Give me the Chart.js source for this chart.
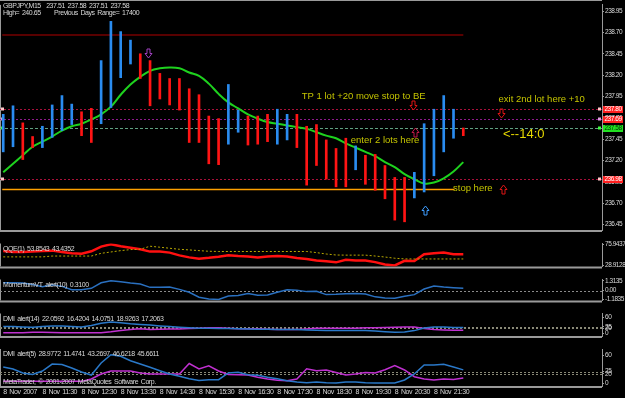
<!DOCTYPE html>
<html>
<head>
<meta charset="utf-8">
<style>
  html, body { margin: 0; background: #000; }
  #wrap { position: relative; width: 625px; height: 398px; overflow: hidden; background: #000; }
  #wrap canvas { position: absolute; left: 0; top: 0; }
</style>
<script src="https://cdn.jsdelivr.net/npm/chart.js@4.4.1/dist/chart.umd.min.js"></script>
</head>
<body>
<div id="wrap"></div>
<script>
// GBPJPY M15, 48 bars from 8 Nov 10:30
const timeLabels = ['8 Nov 2007', '8 Nov 11:30', '8 Nov 12:30', '8 Nov 13:30', '8 Nov 14:30', '8 Nov 15:30',
  '8 Nov 16:30', '8 Nov 17:30', '8 Nov 18:30', '8 Nov 19:30', '8 Nov 20:30', '8 Nov 21:30']
const timeTickBars = [0, 4, 8, 12, 16, 20, 24, 28, 32, 36, 40, 44]

const barHigh = [237.74, 237.84, 237.64, 237.48, 237.60, 237.85, 237.96, 237.86, 237.77, 237.81, 238.37, 238.83,
  238.71, 238.61, 238.45, 238.37, 238.22, 238.16, 238.16, 238.04, 237.97, 237.72, 237.69, 238.09,
  237.79, 237.72, 237.72, 237.74, 237.80, 237.74, 237.74, 237.60, 237.62, 237.44, 237.34, 237.46,
  237.37, 237.26, 237.27, 237.14, 237.00, 237.00, 237.06, 237.63, 237.80, 237.96, 237.80, 237.58]
const barLow = [237.30, 237.36, 237.21, 237.35, 237.35, 237.47, 237.55, 237.62, 237.49, 237.41, 237.63, 237.82,
  238.17, 238.33, 238.16, 237.84, 237.92, 237.85, 237.79, 237.41, 237.41, 237.16, 237.15, 237.39,
  237.53, 237.38, 237.39, 237.42, 237.39, 237.44, 237.35, 236.91, 237.14, 236.98, 236.89, 236.89,
  237.09, 236.92, 236.85, 236.75, 236.50, 236.48, 236.76, 236.83, 237.02, 237.30, 237.46, 237.49]
// 1 = up bar, -1 = down bar
const barDir = [1, 1, -1, -1, 1, 1, 1, 1, -1, -1, 1, 1, 1, 1, -1, -1, -1, -1, -1, -1, -1, -1, -1, 1,
  1, -1, -1, -1, 1, 1, -1, -1, -1, -1, -1, -1, 1, -1, -1, -1, -1, -1, 1, 1, 1, 1, 1, -1]
const maLine = [237.06, 237.16, 237.26, 237.36, 237.42, 237.48, 237.55, 237.60, 237.63, 237.68, 237.74, 237.83,
  237.97, 238.09, 238.18, 238.25, 238.28, 238.29, 238.28, 238.23, 238.19, 238.10, 237.98, 237.88,
  237.81, 237.74, 237.69, 237.65, 237.63, 237.61, 237.59, 237.57, 237.53, 237.49, 237.46, 237.40,
  237.35, 237.30, 237.25, 237.18, 237.12, 237.04, 236.98, 236.93, 236.94, 236.99, 237.07, 237.18]

const priceTicks = [238.95, 238.70, 238.45, 238.20, 237.95, 237.70, 237.45, 237.20, 236.95, 236.70, 236.45]
const dayHighLine = 238.67
const stopLine = 236.86
const levelPrices = [237.80, 237.69, 237.58, 236.98]

const noteTexts = ['TP 1 lot +20 move stop to BE', 'exit 2nd lot here +10', 'enter 2 lots here', 'stop here', '<--14:0']
const noteBars = [30.5, 50.6, 35.5, 45.95, 51.05]
const notePrices = [237.95, 237.92, 237.44, 236.87, 237.50]

const arrowBars = [14.75, 41.9, 50.9, 42.05, 43.05, 51.05]
const arrowPrices = [238.46, 237.85, 237.75, 237.53, 236.62, 236.87]
const arrowDirs = [-1, -1, -1, 1, 1, 1]

const qqeRsi = [61.2, 58.9, 58.9, 59.7, 61.2, 61.9, 58.9, 55.9, 55.2, 60.5, 70.9, 75.9,
  71.7, 68.4, 64.9, 59.7, 59.7, 57.5, 51.4, 46.9, 43.9, 45.9, 48.4, 51.4,
  49.9, 48.9, 46.9, 48.9, 49.9, 48.9, 45.4, 43.4, 40.2, 38.4, 35.9, 41.7,
  40.2, 39.9, 36.4, 31.2, 28.9, 39.4, 39.0, 53.7, 56.3, 57.5, 53.7, 53.9]
const qqeTrail = [48.0, 48.0, 48.0, 48.0, 48.0, 49.9, 49.9, 49.9, 49.9, 49.9, 55.9, 58.9,
  61.9, 64.2, 64.9, 71.7, 69.5, 67.2, 64.9, 63.5, 61.9, 60.5, 60.0, 60.0,
  60.0, 60.0, 60.0, 60.0, 60.0, 60.0, 60.0, 60.0, 57.5, 54.4, 52.2, 51.9,
  51.9, 51.9, 49.9, 47.7, 45.0, 43.5, 43.4, 43.4, 43.4, 43.4, 43.4, 43.4]
const qqeTicks = [75.9437, 28.9128]

const momentum = [1.05, 1.05, 1.01, 0.83, 0.52, 0.79, 0.57, 0.13, 0.13, 0.31, 1.05, 1.31,
  1.18, 1.01, 0.88, 0.44, 0.44, 0.48, 0.17, -0.22, -0.88, -1.10, -1.18, -0.72,
  -0.66, -0.37, -0.61, -0.57, -0.22, 0.13, 0.04, -0.13, -0.09, -0.53, -0.48, -0.40,
  -0.37, -0.44, -0.83, -0.98, -1.01, -0.75, -0.53, 0.22, 0.61, 0.48, 0.39, 0.31]
const momTicks = [1.3135, 0, -1.1835]
const momTickText = ['1.3135', '0.00', '-1.1835']

const dmi14Blue = [25.8, 25.8, 24.5, 23.3, 25.8, 28.3, 28.3, 25.8, 24.0, 30.0, 38.3, 42.5,
  40.0, 36.5, 34.0, 31.5, 28.3, 25.8, 23.3, 21.5, 20.0, 19.5, 18.8, 18.3,
  17.5, 17.0, 16.3, 15.8, 15.3, 15.0, 14.5, 13.3, 12.0, 11.5, 11.5, 11.5,
  11.5, 10.8, 9.5, 7.0, 5.0, 5.8, 10.8, 20.8, 24.5, 24.5, 22.0, 22.1]
const dmi14Pink = [3.3, 3.3, 3.3, 4.5, 5.0, 4.0, 3.3, 3.3, 3.3, 2.7, 3.3, 6.5,
  11.5, 15.0, 17.5, 15.0, 15.8, 16.5, 17.0, 18.3, 20.0, 21.5, 21.5, 20.0,
  17.5, 17.5, 17.5, 16.3, 15.0, 15.0, 15.0, 17.0, 19.5, 20.0, 20.0, 20.0,
  20.0, 21.5, 21.5, 22.0, 23.3, 24.5, 24.5, 18.3, 14.5, 13.3, 12.5, 12.5]
const dmi5Blue = [35.2, 30.9, 22.2, 18.9, 26.5, 41.7, 40.7, 33.0, 24.3, 17.8, 43.9, 62.0,
  58.5, 48.9, 41.7, 34.6, 27.2, 20.0, 15.0, 9.8, 5.9, 7.6, 7.6, 22.2,
  23.7, 18.5, 17.2, 12.8, 9.8, 5.4, 2.6, 0.8, 2.6, 0.8, 0.5, 2.6,
  2.6, 0.8, 0.5, 0.5, 0.3, 7.0, 20.0, 39.6, 39.6, 41.1, 35.2, 29.0]
const dmi5Pink = [4.0, 4.0, 4.0, 4.0, 4.0, 4.0, 4.0, 4.0, 4.0, 9.1, 20.0, 26.5,
  26.5, 26.5, 22.2, 20.0, 20.0, 20.0, 20.0, 42.8, 30.9, 38.0, 26.5, 18.9,
  18.5, 17.8, 12.8, 9.1, 6.3, 5.4, 9.1, 31.5, 27.2, 28.7, 23.3, 17.8,
  20.0, 23.3, 22.2, 29.3, 38.5, 28.7, 14.1, 9.1, 7.0, 9.1, 8.0, 11.5]
const dmiTicks = [60, 25, 20, 0]
const dmiLevels = [25, 20]

const X_MIN = -0.33
const X_MAX = 61.17
const SMALL = "'Liberation Sans', sans-serif"
const TEXT = '#d8d8d8'
const AXIS = '#9a9a9a'
const BLUE = '#2a8cf0'
const RED = '#ff1414'

const wrap = document.getElementById('wrap')
const pts = (arr) => arr.map((v, i) => ({ x: i, y: v }))

// MetaTrader's tiny bitmap font is narrow: tighten letters, keep the word gaps
function tight(ctx) {
  ctx.letterSpacing = '-0.45px'
  ctx.wordSpacing = '1.2px'
}

const frame = {
  id: 'frame',
  beforeDraw(chart) {
    const { ctx, chartArea: a } = chart
    tight(ctx)
    ctx.save()
    ctx.fillStyle = AXIS
    ctx.fillRect(0, a.bottom, a.right, 2)
    ctx.fillRect(0, a.top, 1, a.bottom - a.top)
    ctx.restore()
  },
}

function levels(values, color, dash) {
  return {
    id: 'levels',
    beforeDatasetsDraw(chart) {
      const { ctx, chartArea: a, scales } = chart
      ctx.save()
      ctx.strokeStyle = color
      ctx.setLineDash(dash)
      ctx.lineWidth = 1
      for (const v of values) {
        const py = Math.round(scales.y.getPixelForValue(v)) + 0.5
        ctx.beginPath()
        ctx.moveTo(a.left, py)
        ctx.lineTo(a.right, py)
        ctx.stroke()
      }
      ctx.restore()
    },
  }
}

function caption(lines) {
  return {
    id: 'caption',
    afterDraw(chart) {
      const { ctx, chartArea: a } = chart
      ctx.save()
      tight(ctx)
      ctx.font = '7px ' + SMALL
      ctx.fillStyle = TEXT
      ctx.textBaseline = 'middle'
      for (const [text, dy] of lines) ctx.fillText(text, 3, a.top + dy)
      ctx.restore()
    },
  }
}

function makePanel(p) {
  const canvas = document.createElement('canvas')
  canvas.width = 625
  canvas.height = 398
  wrap.appendChild(canvas)
  const timeAxis = !!p.timeAxis
  return new Chart(canvas, {
    type: 'line',
    data: { datasets: p.datasets },
    options: {
      responsive: false,
      animation: false,
      events: [],
      layout: { padding: { left: 0, right: 0, top: p.top, bottom: 398 - p.bottom - (timeAxis ? 11 : 0) } },
      plugins: { legend: { display: false }, tooltip: { enabled: false } },
      elements: { point: { radius: 0 } },
      scales: {
        x: {
          type: 'linear',
          min: X_MIN,
          max: X_MAX,
          offset: false,
          display: timeAxis,
          afterBuildTicks: (s) => { s.ticks = timeTickBars.map((v) => ({ value: v })) },
          afterFit: (s) => { s.height = 11 },
          ticks: {
            autoSkip: false, maxRotation: 0, align: 'start', padding: 0, color: TEXT,
            font: { family: SMALL, size: 7 },
            callback: (v, i) => timeLabels[i],
          },
          grid: { drawOnChartArea: false, offset: false, tickLength: 2, color: AXIS },
          border: { display: false },
        },
        y: {
          position: 'right',
          min: p.min,
          max: p.max,
          afterBuildTicks: (s) => { s.ticks = p.ticks.map((v) => ({ value: v })) },
          afterFit: (s) => { s.width = 23 },
          ticks: {
            autoSkip: false, padding: 1, color: TEXT,
            font: { family: SMALL, size: 6.5 },
            callback: (v, i) => p.tickText[i],
          },
          grid: { drawOnChartArea: false, tickLength: 2, color: AXIS },
          border: { color: AXIS },
        },
      },
    },
    plugins: [frame, ...(p.plugins || [])],
  })
}

function drawArrow(ctx, x, y, dir, color) {
  const s = -dir
  const shape = [[0, 4.5], [-3.5, 0], [-1.5, 0], [-1.5, -4.5], [1.5, -4.5], [1.5, 0], [3.5, 0]]
  ctx.strokeStyle = color
  ctx.lineWidth = 1
  ctx.beginPath()
  shape.forEach(([dx, dy], i) => {
    const px = x + dx
    const py = y + dy * s
    if (i === 0) ctx.moveTo(px, py)
    else ctx.lineTo(px, py)
  })
  ctx.closePath()
  ctx.stroke()
}

const levelStyle = [
  { color: '#a8103a', dash: [2, 2], box: '#ff2020', ink: '#ffffff', dot: '#ffc8c8' },
  { color: '#8c1a8c', dash: [2, 2], box: '#ff2020', ink: '#ffffff', dot: '#e0a0e0' },
  { color: '#5f9f80', dash: [3, 2], box: '#22e022', ink: '#003000', dot: '#40ff40' },
  { color: '#a8103a', dash: [2, 2], box: '#ff2020', ink: '#ffffff', dot: '#ffc8c8' },
]
const arrowColors = ['#a040c0', '#e01414', '#e01414', '#c01848', '#3c9cff', '#e01414']

const mainDecor = {
  id: 'mainDecor',
  beforeDatasetsDraw(chart) {
    const { ctx, chartArea: a, scales: { y } } = chart
    ctx.save()
    ctx.fillStyle = AXIS
    ctx.fillRect(0, 0, a.right, 1)
    levelPrices.forEach((v, i) => {
      const st = levelStyle[i]
      const py = Math.round(y.getPixelForValue(v)) + 0.5
      ctx.strokeStyle = st.color
      ctx.setLineDash(st.dash)
      ctx.beginPath()
      ctx.moveTo(a.left, py)
      ctx.lineTo(a.right, py)
      ctx.stroke()
      ctx.setLineDash([])
      ctx.fillStyle = st.dot
      ctx.fillRect(a.left + 1, py - 2, 3, 3)
      ctx.fillRect(a.right - 4, py - 2, 3, 3)
    })
    ctx.restore()
  },
  afterDraw(chart) {
    const { ctx, scales: { x, y } } = chart
    ctx.save()
    arrowBars.forEach((b, i) => {
      drawArrow(ctx, Math.round(x.getPixelForValue(b)) + 0.5, Math.round(y.getPixelForValue(arrowPrices[i])) + 0.5,
        arrowDirs[i], arrowColors[i])
    })
    ctx.textBaseline = 'middle'
    ctx.letterSpacing = '0px'
    ctx.wordSpacing = '0px'
    noteTexts.forEach((t, i) => {
      const big = i === noteTexts.length - 1
      ctx.font = big ? '13px "Liberation Sans", sans-serif' : '9.5px "Liberation Sans", sans-serif'
      ctx.fillStyle = big ? '#e6d800' : '#c4c400'
      ctx.fillText(t, x.getPixelForValue(noteBars[i]), y.getPixelForValue(notePrices[i]))
    })
    tight(ctx)
    // price boxes on the right axis
    ctx.font = '6.5px ' + SMALL
    ctx.textAlign = 'center'
    levelPrices.forEach((v, i) => {
      const st = levelStyle[i]
      const py = Math.round(y.getPixelForValue(v))
      ctx.fillStyle = st.box
      ctx.fillRect(603, py - 3, 20, 7)
      ctx.fillStyle = st.ink
      ctx.fillText(v.toFixed(2), 613, py + 0.5)
    })
    ctx.textAlign = 'left'
    ctx.font = '7px ' + SMALL
    ctx.fillStyle = TEXT
    ctx.fillText('GBPJPY,M15  237.51 237.58 237.51 237.58', 3, 6)
    ctx.fillText('High= 240.65     Previous Days Range= 17400', 3, 13)
    ctx.restore()
  },
}

makePanel({
  top: 0, bottom: 241, min: 236.384, max: 239.023,
  ticks: priceTicks, tickText: priceTicks.map((v) => v.toFixed(2)),
  datasets: [
    {
      type: 'bar',
      data: barHigh.map((h, i) => ({ x: i, y: [barLow[i], h] })),
      backgroundColor: barDir.map((d) => (d > 0 ? BLUE : RED)),
      barThickness: 2,
      borderWidth: 0,
      grouped: false,
    },
    { data: [{ x: -0.1, y: dayHighLine }, { x: 47, y: dayHighLine }], borderColor: '#b00000', borderWidth: 1.2 },
    { data: [{ x: -0.1, y: stopLine }, { x: 46.1, y: stopLine }], borderColor: '#ffa000', borderWidth: 1.5 },
    { data: pts(maLine), borderColor: '#1ed21e', borderWidth: 2, tension: 0.4 },
  ],
  plugins: [mainDecor],
})

makePanel({
  top: 243.5, bottom: 277.5, min: 26.65, max: 77.74,
  ticks: qqeTicks, tickText: qqeTicks.map((v) => v.toFixed(4)),
  datasets: [
    { data: pts(qqeTrail), borderColor: '#b8a800', borderWidth: 1, borderDash: [2, 2] },
    { data: pts(qqeRsi), borderColor: '#ff1010', borderWidth: 2.5 },
  ],
  plugins: [caption([['QQE(1) 53.8543 43.4352', 6]])],
})

makePanel({
  top: 279.5, bottom: 311.5, min: -1.316, max: 1.489,
  ticks: momTicks, tickText: momTickText,
  datasets: [{ data: pts(momentum), borderColor: '#2a70c0', borderWidth: 1.5 }],
  plugins: [levels([0], '#8a8a8a', [2, 2]), caption([['MomentumVT alert(10) 0.3100', 5.5]])],
})

makePanel({
  top: 313.5, bottom: 347, min: -9.25, max: 74.5,
  ticks: dmiTicks, tickText: dmiTicks.map(String),
  datasets: [
    { data: pts(dmi14Blue), borderColor: '#2a78c8', borderWidth: 1.5 },
    { data: pts(dmi14Pink), borderColor: '#c030d0', borderWidth: 1.5 },
  ],
  plugins: [levels(dmiLevels, '#8a8a78', [2, 2]),
    caption([['DMI alert(14) 22.0592 16.4204 14.0751 18.9263 17.2063', 5.5]])],
})

makePanel({
  top: 349, bottom: 386, min: -6.09, max: 74.35, timeAxis: true,
  ticks: dmiTicks, tickText: dmiTicks.map(String),
  datasets: [
    { data: pts(dmi5Blue), borderColor: '#2a78c8', borderWidth: 1.5 },
    { data: pts(dmi5Pink), borderColor: '#c030d0', borderWidth: 1.5 },
  ],
  plugins: [levels(dmiLevels, '#8a8a78', [2, 2]),
    caption([['DMI alert(5) 28.9772 11.4741 43.2697 46.6218 45.6611', 5.5],
      ['MetaTrader, \u00a9 2001-2007 MetaQuotes Software Corp.', 33]])],
})
</script>
</body>
</html>
